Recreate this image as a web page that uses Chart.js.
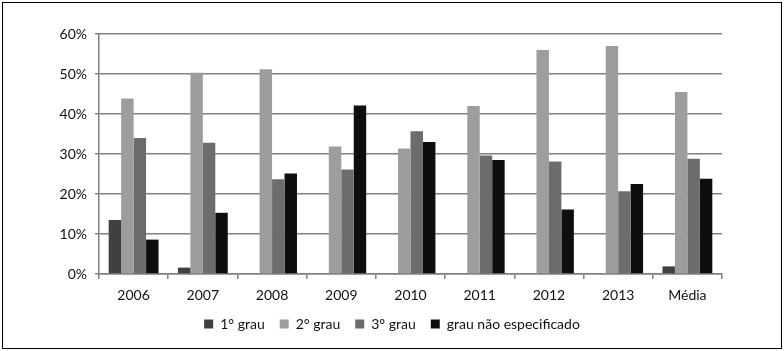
<!DOCTYPE html>
<html><head><meta charset="utf-8">
<script src="https://cdn.jsdelivr.net/npm/chart.js@4"></script>
<style>html,body{margin:0;padding:0;background:#fff}#wrap{width:784px;height:351px}</style>
</head><body><div id="wrap"><canvas id="c" width="784" height="351"></canvas></div>
<script>
const categories = ['2006','2007','2008','2009','2010','2011','2012','2013','Média'];
const grau1 = [13.5, 1.6, 0, 0, 0, 0, 0, 0, 1.9];
const grau2 = [43.9, 50.3, 51.2, 31.9, 31.4, 42.0, 56.0, 57.0, 45.5];
const grau3 = [34.0, 32.8, 23.7, 26.1, 35.7, 29.6, 28.1, 20.7, 28.8];
const grauNE = [8.6, 15.3, 25.1, 42.1, 33.0, 28.5, 16.1, 22.5, 23.8];
const seriesNames = ['1° grau', '2° grau', '3° grau', 'grau não especificado'];
const yTicks = [0, 10, 20, 30, 40, 50, 60];

const frame = {
  id: 'frame',
  beforeDraw(chart) {
    const ctx = chart.ctx;
    ctx.save();
    ctx.fillStyle = '#fff';
    ctx.fillRect(0, 0, chart.width, chart.height);
    ctx.strokeStyle = '#000';
    ctx.lineWidth = 1;
    ctx.strokeRect(2.5, 2.5, 779, 346);
    ctx.restore();
  }
};

const font = { family: 'Lato, "Open Sans", sans-serif', size: 14 };
new Chart(document.getElementById('c'), {
  type: 'bar',
  data: {
    labels: categories,
    datasets: [
      { label: seriesNames[0], data: grau1, backgroundColor: '#404040' },
      { label: seriesNames[1], data: grau2, backgroundColor: '#9d9d9d' },
      { label: seriesNames[2], data: grau3, backgroundColor: '#6c6c6c' },
      { label: seriesNames[3], data: grauNE, backgroundColor: '#0e0e0e' }
    ]
  },
  options: {
    responsive: false,
    animation: false,
    devicePixelRatio: 1,
    layout: { padding: { left: 0, right: 0, top: 34, bottom: 10 } },
    datasets: { bar: { categoryPercentage: 0.72, barPercentage: 1.0 } },
    plugins: {
      tooltip: { enabled: false },
      legend: {
        position: 'bottom',
        labels: { boxWidth: 9, boxHeight: 9, padding: 15, color: '#111', font: font }
      }
    },
    scales: {
      x: {
        grid: { display: true, drawOnChartArea: false, drawTicks: true, tickLength: 5, color: '#808080', lineWidth: 1.5, offset: true },
        border: { color: '#808080', width: 1.5 },
        ticks: { color: '#111', font: font, padding: 8 },
        afterFit(s) { s.height = 28; }
      },
      y: {
        min: 0, max: 60,
        afterBuildTicks(s) { s.ticks = yTicks.map(v => ({ value: v })); },
        grid: { color: '#808080', lineWidth: 1.5, drawTicks: true, tickLength: 4 },
        border: { color: '#808080', width: 1.5 },
        ticks: { color: '#111', font: font, padding: 8, callback: v => v + '%' },
        afterFit(s) { s.width = 99; }
      },
      yr: {
        position: 'right',
        display: true,
        grid: { display: false },
        border: { display: false },
        ticks: { display: false },
        afterFit(s) { s.width = 62; }
      }
    }
  },
  plugins: [frame]
});
</script></body></html>
